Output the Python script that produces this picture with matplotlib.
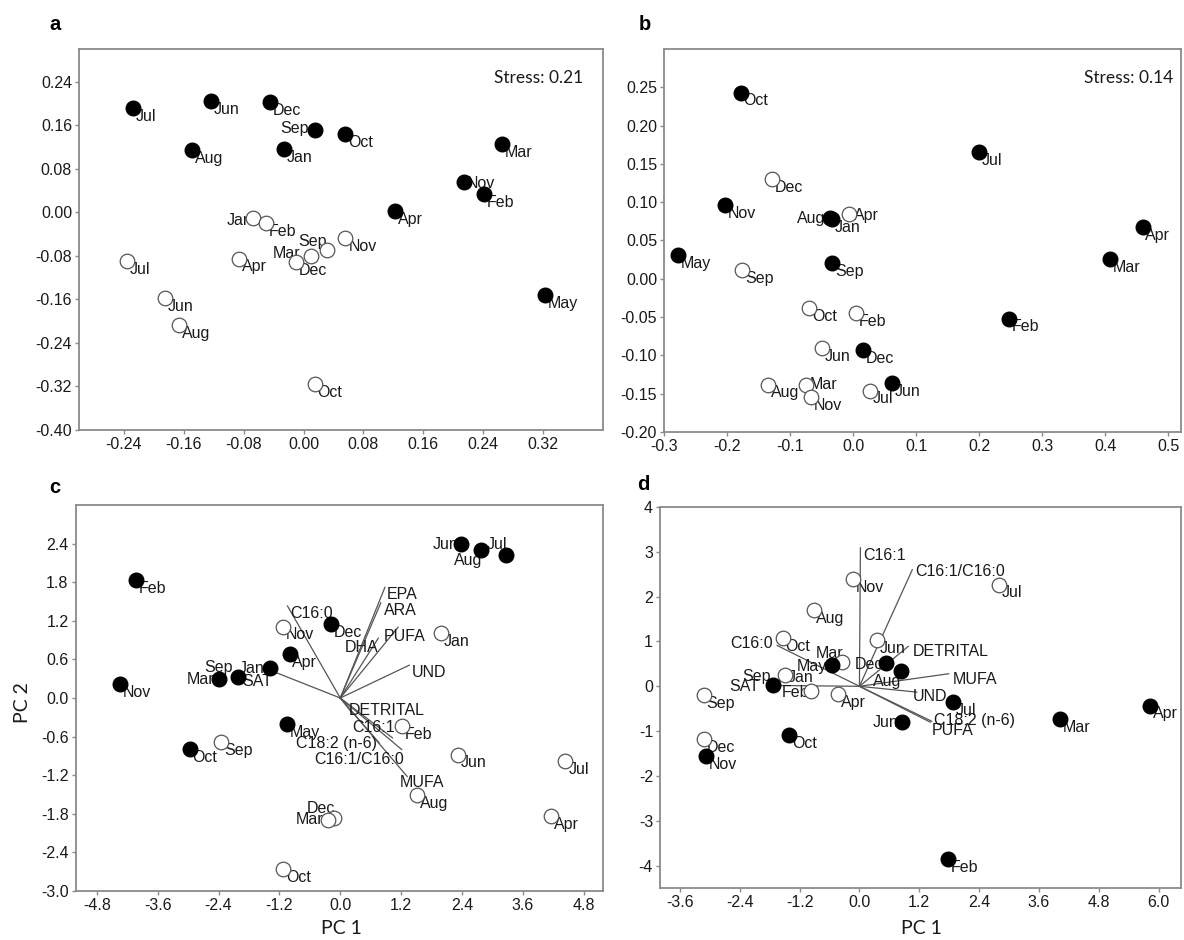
import matplotlib
matplotlib.use('Agg')
import matplotlib.pyplot as plt

plt.rcParams['font.family'] = ['Liberation Sans', 'DejaVu Sans']
plt.rcParams['axes.unicode_minus'] = False

W, H = 1184, 940

# ---- a: nMDS (stress 0.21) ----
a_filled_months = ['Jul', 'Jun', 'Dec', 'Sep', 'Oct', 'Aug', 'Jan', 'Mar', 'Nov', 'Feb', 'Apr', 'May']
a_filled_x = [-0.228, -0.124, -0.045, 0.015, 0.056, -0.149, -0.026, 0.265, 0.214, 0.241, 0.122, 0.323]
a_filled_y = [0.191, 0.205, 0.202, 0.151, 0.143, 0.114, 0.116, 0.126, 0.056, 0.033, 0.002, -0.152]
a_open_months = ['Jan', 'Feb', 'Sep', 'Mar', 'Dec', 'Nov', 'Apr', 'Jul', 'Jun', 'Aug', 'Oct']
a_open_x = [-0.067, -0.050, 0.031, 0.010, -0.010, 0.056, -0.086, -0.236, -0.185, -0.166, 0.015]
a_open_y = [-0.011, -0.020, -0.069, -0.080, -0.092, -0.048, -0.085, -0.089, -0.158, -0.208, -0.315]
a_xticks = [-0.24, -0.16, -0.08, 0.00, 0.08, 0.16, 0.24, 0.32]
a_yticks = [-0.40, -0.32, -0.24, -0.16, -0.08, 0.00, 0.08, 0.16, 0.24]

# ---- b: nMDS (stress 0.14) ----
b_filled_months = ['Oct', 'Jul', 'Nov', 'Aug', 'Jan', 'May', 'Sep', 'Apr', 'Mar', 'Feb', 'Dec', 'Jun']
b_filled_x = [-0.178, 0.200, -0.204, -0.036, -0.033, -0.278, -0.033, 0.459, 0.407, 0.247, 0.015, 0.062]
b_filled_y = [0.243, 0.165, 0.096, 0.079, 0.078, 0.031, 0.020, 0.067, 0.026, -0.052, -0.093, -0.136]
b_open_months = ['Dec', 'Apr', 'Sep', 'Oct', 'Feb', 'Jun', 'Aug', 'Mar', 'Nov', 'Jul']
b_open_x = [-0.129, -0.006, -0.176, -0.070, 0.004, -0.050, -0.135, -0.075, -0.067, 0.027]
b_open_y = [0.130, 0.085, 0.011, -0.038, -0.045, -0.090, -0.138, -0.138, -0.154, -0.146]
b_xticks = [-0.3, -0.2, -0.1, 0.0, 0.1, 0.2, 0.3, 0.4, 0.5]
b_yticks = [-0.20, -0.15, -0.10, -0.05, 0.00, 0.05, 0.10, 0.15, 0.20, 0.25]

# ---- c: PCA biplot ----
c_filled_months = ['Jun', 'Aug', 'Jul', 'Feb', 'Dec', 'Apr', 'Jan', 'Sep', 'Mar', 'Nov', 'May', 'Oct']
c_filled_x = [2.39, 2.78, 3.27, -4.02, -0.19, -1.00, -1.38, -2.01, -2.40, -4.35, -1.06, -2.97]
c_filled_y = [2.40, 2.30, 2.23, 1.83, 1.15, 0.68, 0.46, 0.33, 0.29, 0.21, -0.40, -0.79]
c_open_months = ['Nov', 'Jan', 'Sep', 'Feb', 'Jun', 'Jul', 'Aug', 'Dec', 'Mar', 'Apr', 'Oct']
c_open_x = [-1.12, 1.99, -2.35, 1.22, 2.32, 4.44, 1.52, -0.12, -0.25, 4.15, -1.12]
c_open_y = [1.11, 1.01, -0.68, -0.44, -0.88, -0.98, -1.51, -1.86, -1.89, -1.84, -2.66]
c_vec_names = ['EPA', 'ARA', 'C16:0', 'PUFA', 'DHA', 'UND', 'SAT', 'DETRITAL',
               'C16:1', 'C18:2 (n-6)', 'C16:1/C16:0', 'MUFA']
c_vec_x = [0.88, 0.80, -1.04, 1.14, 0.75, 1.36, -1.25, 0.24, 1.03, 0.77, 1.21, 1.32]
c_vec_y = [1.72, 1.48, 1.43, 1.10, 0.93, 0.51, 0.39, -0.24, -0.62, -0.70, -0.80, -1.22]
c_xticks = [-4.8, -3.6, -2.4, -1.2, 0.0, 1.2, 2.4, 3.6, 4.8]
c_yticks = [-3.0, -2.4, -1.8, -1.2, -0.6, 0.0, 0.6, 1.2, 1.8, 2.4]

# ---- d: PCA biplot ----
d_filled_months = ['May', 'Dec', 'Aug', 'Sep', 'Jul', 'Jun', 'Mar', 'Apr', 'Oct', 'Nov', 'Feb']
d_filled_x = [-0.56, 0.53, 0.83, -1.73, 1.87, 0.86, 4.03, 5.83, -1.41, -3.07, 1.77]
d_filled_y = [0.48, 0.52, 0.34, 0.02, -0.36, -0.80, -0.73, -0.43, -1.08, -1.55, -3.86]
d_open_months = ['Nov', 'Jul', 'Aug', 'Oct', 'Jun', 'Mar', 'Jan', 'Feb', 'Apr', 'Sep', 'Dec']
d_open_x = [-0.12, 2.80, -0.92, -1.54, 0.36, -0.34, -1.49, -0.97, -0.43, -3.12, -3.12]
d_open_y = [2.39, 2.27, 1.70, 1.08, 1.03, 0.54, 0.26, -0.10, -0.17, -0.20, -1.17]
d_vec_names = ['C16:1', 'C16:1/C16:0', 'DETRITAL', 'C16:0', 'MUFA', 'SAT',
               'UND', 'C18:2 (n-6)', 'PUFA']
d_vec_x = [0.02, 1.06, 0.98, -1.65, 1.79, -1.81, 1.15, 1.45, 1.42]
d_vec_y = [3.09, 2.60, 0.89, 0.91, 0.28, 0.02, -0.13, -0.78, -0.80]
d_xticks = [-3.6, -2.4, -1.2, 0.0, 1.2, 2.4, 3.6, 4.8, 6.0]
d_yticks = [-4, -3, -2, -1, 0, 1, 2, 3, 4]

# label placement: (dx, dy, ha) in points, default is right-below
DEFAULT_OFFSET = (2, -6, 'left')
a_filled_pos = {'Sep': (-4, 1, 'right'), 'Nov': (2, -1, 'left')}
a_open_pos = {'Jan': (-1, -1.5, 'right'), 'Sep': (0, 6, 'right'), 'Mar': (-8, 1.5, 'right')}
b_filled_pos = {'Aug': (-4, 0, 'right')}
b_open_pos = {'Apr': (3, -1, 'left'), 'Mar': (3, 0, 'left')}
c_filled_pos = {'Jun': (-2, -1, 'right'), 'Aug': (0.5, -7.5, 'right'), 'Jul': (1, 7.5, 'right'),
                'Jan': (-4.5, 0, 'right'), 'Sep': (-4, 6.5, 'right'), 'Mar': (-3, 0, 'right')}
c_open_pos = {'Dec': (1, 6.5, 'right'), 'Mar': (-3, 0, 'right')}
c_vec_pos = [(1.5, -5.3, 'left'), (2, -5.5, 'left'), (2, -5.5, 'left'), (-10, -7, 'left'),
             (0, -6.8, 'right'), (1.5, -5.5, 'left'), (-3, -6, 'right'), (-3, 2, 'left'),
             (1.5, 7.7, 'right'), (-1.5, 0, 'right'), (2, -7, 'right'), (-5.5, -4.3, 'left')]
d_filled_pos = {'May': (-3, -1, 'right'), 'Dec': (-2, -1, 'right'), 'Aug': (0.5, -7.5, 'right'),
                'Sep': (-1.5, 6.5, 'right'), 'Jun': (-3, -0.5, 'right')}
d_open_pos = {'Mar': (0.5, 6.5, 'right'), 'Jan': (2, -2, 'left'), 'Feb': (-1.5, -1.2, 'right')}
d_vec_pos = [(2, -5.5, 'left'), (2, -1.2, 'left'), (3, -4, 'left'), (-3.3, 1.2, 'right'),
             (2.7, -4.3, 'left'), (-6.8, -0.5, 'right'), (-2.7, -2.9, 'left'), (1.3, 0.7, 'left'),
             (1, -6, 'left')]

TXT = '#1a1a1a'
SPINE = '#8a8a8a'


def px_box(left, top, right, bottom):
    return [left / W, 1 - bottom / H, (right - left) / W, (bottom - top) / H]


def style_axes(ax, xticks, yticks, xfmt, yfmt):
    for s in ax.spines.values():
        s.set_color(SPINE)
        s.set_linewidth(1.3)
    ax.set_xticks(xticks)
    ax.set_xticklabels([xfmt % v for v in xticks])
    ax.set_yticks(yticks)
    ax.set_yticklabels([yfmt % v for v in yticks])
    ax.tick_params(direction='out', length=3, width=1, color=SPINE,
                   labelsize=11.5, labelcolor=TXT, pad=2)


def draw_points(ax, months, xs, ys, filled, offsets):
    for m, x, y in zip(months, xs, ys):
        dx, dy, ha = offsets.get(m, DEFAULT_OFFSET)
        ax.annotate(m, (x, y), xytext=(dx, dy), textcoords='offset points',
                    ha=ha, va='center', fontsize=11.5, color=TXT, zorder=2)
    if filled:
        ax.plot(xs, ys, 'o', ms=10.5, color='black', linestyle='none', zorder=4)
    else:
        ax.plot(xs, ys, 'o', ms=10.5, mfc='white', mec='#555555', mew=0.9,
                linestyle='none', zorder=3)


def draw_vectors(ax, names, xs, ys, offsets):
    for n, x, y, (dx, dy, ha) in zip(names, xs, ys, offsets):
        ax.plot([0, x], [0, y], color='#555555', lw=0.9, zorder=1)
        ax.annotate(n, (x, y), xytext=(dx, dy), textcoords='offset points',
                    ha=ha, va='center', fontsize=11.5, color=TXT, zorder=2)


fig = plt.figure(figsize=(W / 100, H / 100), dpi=100)

ax_a = fig.add_axes(px_box(79, 49, 603, 430))
ax_b = fig.add_axes(px_box(664, 49, 1181, 432))
ax_c = fig.add_axes(px_box(75.5, 505, 603, 891))
ax_d = fig.add_axes(px_box(660, 507, 1181, 888))

# a
draw_points(ax_a, a_open_months, a_open_x, a_open_y, False, a_open_pos)
draw_points(ax_a, a_filled_months, a_filled_x, a_filled_y, True, a_filled_pos)
ax_a.set_xlim(-0.30, 0.40)
ax_a.set_ylim(-0.40, 0.30)
style_axes(ax_a, a_xticks, a_yticks, '%.2f', '%.2f')
ax_a.text(1 - 20 / 524, 1 - 29 / 381, 'Stress: 0.21', transform=ax_a.transAxes,
          ha='right', va='center', fontsize=12.5, family='Lato', color=TXT)

# b
draw_points(ax_b, b_open_months, b_open_x, b_open_y, False, b_open_pos)
draw_points(ax_b, b_filled_months, b_filled_x, b_filled_y, True, b_filled_pos)
ax_b.set_xlim(-0.30, 0.52)
ax_b.set_ylim(-0.20, 0.30)
style_axes(ax_b, b_xticks, b_yticks, '%.1f', '%.2f')
ax_b.text(1 - 8 / 517, 1 - 29 / 383, 'Stress: 0.14', transform=ax_b.transAxes,
          ha='right', va='center', fontsize=12.5, family='Lato', color=TXT)

# c
draw_vectors(ax_c, c_vec_names, c_vec_x, c_vec_y, c_vec_pos)
draw_points(ax_c, c_open_months, c_open_x, c_open_y, False, c_open_pos)
draw_points(ax_c, c_filled_months, c_filled_x, c_filled_y, True, c_filled_pos)
ax_c.set_xlim(-5.22, 5.18)
ax_c.set_ylim(-3.0, 3.0)
style_axes(ax_c, c_xticks, c_yticks, '%.1f', '%.1f')

# d
draw_vectors(ax_d, d_vec_names, d_vec_x, d_vec_y, d_vec_pos)
draw_points(ax_d, d_open_months, d_open_x, d_open_y, False, d_open_pos)
draw_points(ax_d, d_filled_months, d_filled_x, d_filled_y, True, d_filled_pos)
ax_d.set_xlim(-4.0, 6.45)
ax_d.set_ylim(-4.5, 4.0)
style_axes(ax_d, d_xticks, d_yticks, '%.1f', '%d')

# panel letters and axis titles
for letter, x, y in [('a', 49, 25), ('b', 639, 25), ('c', 49, 487), ('d', 637, 485)]:
    fig.text(x / W, 1 - y / H, letter, fontsize=14.5, fontweight='bold',
             ha='left', va='center', color='black')
fig.text(341 / W, 1 - 928 / H, 'PC 1', fontsize=14, family='Lato', ha='center', va='center', color=TXT)
fig.text(921 / W, 1 - 928 / H, 'PC 1', fontsize=14, family='Lato', ha='center', va='center', color=TXT)
fig.text(22 / W, 1 - 703 / H, 'PC 2', fontsize=14, family='Lato', rotation=90,
         ha='center', va='center', color=TXT)

fig.savefig('out.png', dpi=100)
